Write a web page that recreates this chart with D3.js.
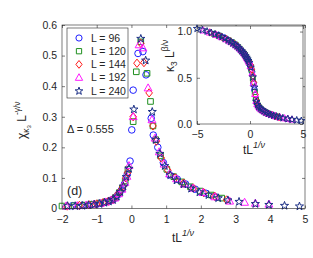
<!DOCTYPE html>
<html>
<head>
<meta charset="utf-8">
<script src="https://cdn.jsdelivr.net/npm/d3@7"></script>
<style>
body { margin: 0; background: #fff; }
text { font-family: "Liberation Sans", Arial, sans-serif; fill: #262626; }
</style>
</head>
<body>
<script>
// series labels, markers and colours
var sizes = ["L = 96", "L = 120", "L = 144", "L = 192", "L = 240"];
var shapes = ["circle", "square", "diamond", "triangle", "star"];
var colors = ["#1f1fff", "#1f8f1f", "#ff1a1a", "#ff1aff", "#1b2f86"];

// tL^(1/nu) for each size
var x96 = [-3.0, -2.5, -2.05, -1.7, -1.4, -1.15, -0.95, -0.78, -0.63, -0.5, -0.39, -0.29, -0.2, -0.12, -0.04, 0.01, 0.05, 0.19, 0.33, 0.42, 0.57, 0.63, 0.76, 0.92, 1.1, 1.32, 1.56, 1.84, 2.14, 2.45];
var x120 = [-3.4, -2.9, -2.4, -2.0, -1.65, -1.35, -1.1, -0.9, -0.72, -0.58, -0.46, -0.35, -0.26, -0.18, -0.1, 0.05, 0.14, 0.27, 0.45, 0.55, 0.62, 0.7, 0.84, 1.02, 1.22, 1.45, 1.7, 1.98, 2.3, 2.6];
var x144 = [-3.8, -3.25, -2.7, -2.25, -1.85, -1.5, -1.22, -1.0, -0.82, -0.66, -0.53, -0.42, -0.32, -0.24, -0.16, -0.11, 0.05, 0.16, 0.27, 0.36, 0.51, 0.62, 0.72, 0.86, 1.05, 1.26, 1.5, 1.78, 2.08, 2.4, 2.74];
var x192 = [-4.4, -3.8, -3.2, -2.7, -2.25, -1.88, -1.56, -1.3, -1.08, -0.9, -0.74, -0.6, -0.48, -0.37, -0.27, -0.19, -0.13, -0.07, 0.05, 0.22, 0.33, 0.48, 0.59, 0.68, 0.8, 0.94, 1.1, 1.3, 1.52, 1.78, 2.06, 2.4, 2.83, 3.26, 3.57, 3.96];
var x240 = [-5.0, -4.5, -4.05, -3.65, -3.3, -2.95, -2.65, -2.35, -2.08, -1.84, -1.62, -1.42, -1.24, -1.07, -0.92, -0.78, -0.65, -0.53, -0.42, -0.32, -0.23, -0.15, -0.07, 0.07, 0.27, 0.41, 0.6, 0.7, 0.82, 0.96, 1.12, 1.3, 1.5, 1.72, 1.96, 2.22, 2.5, 2.78, 3.1, 3.57, 3.96, 4.41, 4.84];

// chi_kappa3 L^(-gamma/nu)
var chi96 = [0.005, 0.006, 0.008, 0.009, 0.01, 0.013, 0.016, 0.02, 0.025, 0.032, 0.045, 0.06, 0.08, 0.112, 0.155, 0.257, 0.387, 0.507, 0.513, 0.437, 0.295, 0.24, 0.2, 0.15, 0.11, 0.096, 0.08, 0.063, 0.05, 0.037];
var chi120 = [0.004, 0.005, 0.006, 0.008, 0.009, 0.011, 0.014, 0.018, 0.022, 0.027, 0.036, 0.052, 0.067, 0.09, 0.128, 0.284, 0.447, 0.545, 0.442, 0.35, 0.27, 0.225, 0.172, 0.128, 0.104, 0.087, 0.071, 0.057, 0.044, 0.034];
var chi144 = [0.004, 0.005, 0.006, 0.007, 0.008, 0.01, 0.012, 0.015, 0.019, 0.024, 0.03, 0.043, 0.057, 0.072, 0.1, 0.117, 0.30, 0.475, 0.54, 0.477, 0.378, 0.27, 0.22, 0.165, 0.125, 0.1, 0.083, 0.067, 0.052, 0.04, 0.028];
var chi192 = [0.003, 0.004, 0.005, 0.006, 0.007, 0.008, 0.009, 0.011, 0.014, 0.017, 0.021, 0.027, 0.034, 0.048, 0.063, 0.085, 0.105, 0.14, 0.30, 0.535, 0.525, 0.394, 0.29, 0.23, 0.185, 0.145, 0.113, 0.097, 0.08, 0.066, 0.052, 0.038, 0.024, 0.02, 0.017, 0.014];
var chi240 = [0.003, 0.003, 0.004, 0.004, 0.005, 0.005, 0.006, 0.007, 0.008, 0.009, 0.009, 0.01, 0.012, 0.014, 0.016, 0.02, 0.024, 0.029, 0.04, 0.055, 0.073, 0.104, 0.131, 0.325, 0.556, 0.485, 0.317, 0.225, 0.18, 0.14, 0.11, 0.093, 0.08, 0.066, 0.054, 0.045, 0.035, 0.028, 0.023, 0.016, 0.013, 0.01, 0.008];

// kappa3 L^(beta/nu) (inset)
var kap96 = [0.962, 0.935, 0.908, 0.885, 0.86, 0.837, 0.81, 0.79, 0.77, 0.75, 0.73, 0.71, 0.69, 0.675, 0.652, 0.635, 0.62, 0.565, 0.44, 0.37, 0.26, 0.235, 0.2, 0.172, 0.155, 0.138, 0.122, 0.107, 0.095, 0.082];
var kap120 = [0.975, 0.955, 0.93, 0.905, 0.882, 0.858, 0.83, 0.805, 0.78, 0.762, 0.745, 0.72, 0.7, 0.685, 0.665, 0.62, 0.585, 0.49, 0.345, 0.27, 0.24, 0.21, 0.183, 0.162, 0.143, 0.127, 0.113, 0.1, 0.088, 0.079];
var kap144 = [0.99, 0.968, 0.945, 0.92, 0.893, 0.868, 0.845, 0.82, 0.795, 0.775, 0.757, 0.737, 0.715, 0.7, 0.685, 0.672, 0.64, 0.59, 0.52, 0.45, 0.32, 0.25, 0.215, 0.185, 0.16, 0.142, 0.125, 0.11, 0.097, 0.085, 0.073];
var kap192 = [1.012, 0.99, 0.965, 0.94, 0.916, 0.893, 0.87, 0.85, 0.83, 0.81, 0.792, 0.773, 0.755, 0.732, 0.712, 0.698, 0.685, 0.668, 0.625, 0.55, 0.44, 0.325, 0.25, 0.215, 0.19, 0.17, 0.155, 0.14, 0.124, 0.11, 0.098, 0.085, 0.072, 0.062, 0.056, 0.048];
var kap240 = [1.035, 1.02, 1.005, 0.99, 0.975, 0.96, 0.945, 0.928, 0.908, 0.892, 0.876, 0.86, 0.845, 0.828, 0.81, 0.792, 0.775, 0.758, 0.74, 0.722, 0.705, 0.688, 0.668, 0.615, 0.51, 0.4, 0.245, 0.212, 0.19, 0.172, 0.157, 0.142, 0.128, 0.115, 0.104, 0.094, 0.085, 0.077, 0.068, 0.058, 0.051, 0.044, 0.038];

var xTicks = [-2, -1, 0, 1, 2, 3, 4, 5];
var yTicks = [0, 0.1, 0.2, 0.3, 0.4, 0.5, 0.6];
var xTicksIn = [-5, 0, 5];
var yTicksIn = [0, 0.5, 1];

var xs = [x96, x120, x144, x192, x240];
var chis = [chi96, chi120, chi144, chi192, chi240];
var kaps = [kap96, kap120, kap144, kap192, kap240];

var series = sizes.map(function (s, i) {
  return {
    name: s, shape: shapes[i], color: colors[i],
    pts: xs[i].map(function (v, j) { return { x: v, chi: chis[i][j], kap: kaps[i][j] }; })
  };
});

var W = 313, H = 258;
var svg = d3.select("body").append("svg").attr("width", W).attr("height", H);
var ink = "#262626";

// marker paths (MATLAB-like)
function marker(shape, r) {
  var p;
  if (shape == "circle") {
    return d3.symbol(d3.symbolCircle, Math.PI * r * r)();
  } else if (shape == "square") {
    var a = r * 0.85;
    return "M" + (-a) + "," + (-a) + "H" + a + "V" + a + "H" + (-a) + "Z";
  } else if (shape == "diamond") {
    var b = r * 1.25;
    return "M0," + (-b) + "L" + (b * 0.8) + ",0L0," + b + "L" + (-b * 0.8) + ",0Z";
  } else if (shape == "triangle") {
    var c = r * 1.25;
    return "M0," + (-c) + "L" + (c * 0.95) + "," + (c * 0.7) + "L" + (-c * 0.95) + "," + (c * 0.7) + "Z";
  } else {
    p = [];
    for (var k = 0; k < 10; k++) {
      var ang = -Math.PI / 2 + k * Math.PI / 5;
      var rr = k % 2 == 0 ? r * 1.3 : r * 0.52;
      p.push([rr * Math.cos(ang), rr * Math.sin(ang) + 0.3]);
    }
    return "M" + p.join("L") + "Z";
  }
}

// ---------- main axes ----------
var x = d3.scaleLinear().domain([-2, 5]).range([62, 305]);
var y = d3.scaleLinear().domain([0, 0.6]).range([208.5, 25]);

svg.append("g").attr("transform", "translate(0,208.5)")
  .call(d3.axisBottom(x).tickValues(xTicks).tickSize(-3).tickPadding(7).tickFormat(d3.format("d")))
  .call(function (g) { g.select(".domain").remove(); });
svg.append("g").attr("transform", "translate(62,0)")
  .call(d3.axisLeft(y).tickValues(yTicks).tickSize(-3).tickPadding(5).tickFormat(function (d) { return d == 0 ? "0" : d3.format(".1f")(d); }))
  .call(function (g) { g.select(".domain").remove(); });

svg.selectAll(".tick line").attr("stroke", ink).attr("stroke-width", 0.6);
svg.selectAll(".tick text").attr("font-size", 10.5).attr("font-family", "Liberation Sans, Arial, sans-serif").attr("fill", ink);

var mainPts = svg.append("g");
series.forEach(function (s) {
  mainPts.selectAll(null)
    .data(s.pts.filter(function (d) { return d.x >= -2 && d.x <= 5; }))
    .enter().append("path")
    .attr("d", marker(s.shape, 3.3))
    .attr("transform", function (d) { return "translate(" + x(d.x) + "," + y(d.chi) + ")"; })
    .attr("fill", "none").attr("stroke", s.color).attr("stroke-width", 1);
});

// top/right ticks of the main box
svg.append("g").attr("transform", "translate(0,25)")
  .call(d3.axisTop(x).tickValues(xTicks).tickSize(-3).tickFormat(""))
  .call(function (g) { g.select(".domain").remove(); g.selectAll("line").attr("stroke", ink).attr("stroke-width", 0.6); });
svg.append("g").attr("transform", "translate(305,0)")
  .call(d3.axisRight(y).tickValues(yTicks).tickSize(-3).tickFormat(""))
  .call(function (g) { g.select(".domain").remove(); g.selectAll("line").attr("stroke", ink).attr("stroke-width", 0.6); });

svg.append("rect").attr("x", 62).attr("y", 25).attr("width", 243).attr("height", 183.5)
  .attr("fill", "none").attr("stroke", ink).attr("stroke-width", 0.6);

// axis titles
var xl = svg.append("text").attr("x", 172).attr("y", 242).attr("font-size", 12);
xl.append("tspan").text("tL");
xl.append("tspan").attr("dy", -6).attr("font-size", 9).attr("font-style", "italic").text("1/ν");

var yl = svg.append("text").attr("transform", "translate(26,139) rotate(-90)").attr("font-size", 12);
yl.append("tspan").text("χ");
yl.append("tspan").attr("dy", 3).attr("font-size", 8.5).text("κ");
yl.append("tspan").attr("dy", 2).attr("font-size", 6).text("3");
yl.append("tspan").attr("dy", -5).text(" L");
yl.append("tspan").attr("dy", -6).attr("font-size", 8.5).text("-γ/ν");

svg.append("text").attr("x", 67).attr("y", 133).attr("font-size", 11).text("Δ = 0.555");
svg.append("text").attr("x", 67).attr("y", 195).attr("font-size", 12.5).text("(d)");

// legend
var lg = svg.append("g");
lg.append("rect").attr("x", 67).attr("y", 28).attr("width", 61).attr("height", 70)
  .attr("fill", "#fff").attr("stroke", ink).attr("stroke-width", 0.6);
series.forEach(function (s, i) {
  var yy = 38 + i * 13.2;
  lg.append("path").attr("d", marker(s.shape, 3.1)).attr("transform", "translate(79," + yy + ")")
    .attr("fill", "none").attr("stroke", s.color).attr("stroke-width", 1);
  lg.append("text").attr("x", 91).attr("y", yy + 3.8).attr("font-size", 10.5).text(s.name);
});

// ---------- inset ----------
var xi = d3.scaleLinear().domain([-5, 5]).range([197, 303]);
var yi = d3.scaleLinear().domain([0, 1.06]).range([124, 26]);

var ins = svg.append("g");
ins.append("rect").attr("x", 197).attr("y", 26).attr("width", 106).attr("height", 98).attr("fill", "#fff");

ins.append("g").attr("transform", "translate(0,124)")
  .call(d3.axisBottom(xi).tickValues(xTicksIn).tickSize(-3).tickPadding(7).tickFormat(d3.format("d")))
  .call(function (g) { g.select(".domain").remove(); });
ins.append("g").attr("transform", "translate(197,0)")
  .call(d3.axisLeft(yi).tickValues(yTicksIn).tickSize(-3).tickPadding(5))
  .call(function (g) { g.select(".domain").remove(); });
ins.append("g").attr("transform", "translate(0,26)")
  .call(d3.axisTop(xi).tickValues(xTicksIn).tickSize(-3).tickFormat(""))
  .call(function (g) { g.select(".domain").remove(); });
ins.append("g").attr("transform", "translate(303,0)")
  .call(d3.axisRight(yi).tickValues(yTicksIn).tickSize(-3).tickFormat(""))
  .call(function (g) { g.select(".domain").remove(); });
ins.selectAll(".tick line").attr("stroke", ink).attr("stroke-width", 0.6);
ins.selectAll(".tick text").attr("font-size", 10.5).attr("font-family", "Liberation Sans, Arial, sans-serif").attr("fill", ink);

series.forEach(function (s) {
  ins.selectAll(null)
    .data(s.pts)
    .enter().append("path")
    .attr("d", marker(s.shape, 2.9))
    .attr("transform", function (d) { return "translate(" + xi(d.x) + "," + yi(d.kap) + ")"; })
    .attr("fill", "none").attr("stroke", s.color).attr("stroke-width", 1);
});

ins.append("rect").attr("x", 197).attr("y", 26).attr("width", 106).attr("height", 98)
  .attr("fill", "none").attr("stroke", ink).attr("stroke-width", 0.6);

var xil = ins.append("text").attr("x", 243).attr("y", 154).attr("font-size", 12);
xil.append("tspan").text("tL");
xil.append("tspan").attr("dy", -6).attr("font-size", 9).attr("font-style", "italic").text("1/ν");

var yil = ins.append("text").attr("transform", "translate(174,72) rotate(-90)").attr("font-size", 12);
yil.append("tspan").text("κ");
yil.append("tspan").attr("dy", 3).attr("font-size", 8.5).text("3");
yil.append("tspan").attr("dy", -3).text(" L");
yil.append("tspan").attr("dy", -6).attr("font-size", 8.5).text("β/ν");
</script>
</body>
</html>
